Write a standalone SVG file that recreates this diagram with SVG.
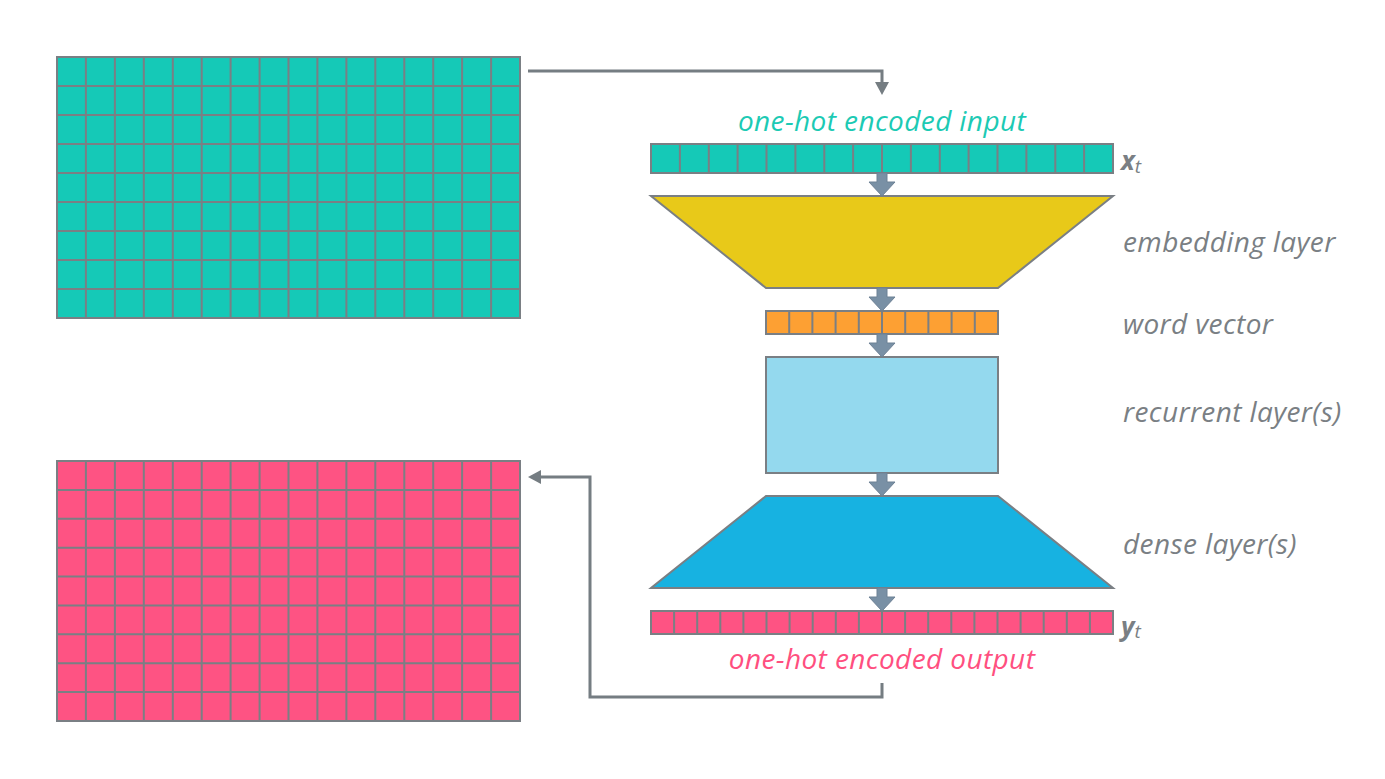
<svg xmlns="http://www.w3.org/2000/svg" width="1385" height="779" viewBox="0 0 1385 779">
<style>
.grid{stroke:#7a7f84;stroke-width:2;fill:none}
.teal{fill:#15c9b7}
.pink{fill:#fe5383}
.lbl{font-family:"Open Sans","DejaVu Sans",sans-serif;font-style:italic;font-weight:400;font-size:28px;letter-spacing:0.4px;fill:#7a7f84}
.conn{fill:none;stroke:#757d82;stroke-width:3}
.blk{fill:#7990a5;stroke:#6d8195;stroke-width:1}
.shape{stroke:#7a7f84;stroke-width:2}
</style>
<defs>
<path id="barrow" class="blk" d="M-5,0 H5 V9 H13 L0,23 L-13,9 H-5 Z"/>
<marker id="ah" markerUnits="userSpaceOnUse" markerWidth="14" markerHeight="14" refX="0" refY="7" orient="auto">
<path d="M0,0 L13,7 L0,14 Z" fill="#757d82"/>
</marker>
</defs>
<rect width="1385" height="779" fill="#ffffff"/>

<g id="input-matrix">
<rect x="57" y="57" width="463" height="261" class="teal"/>
<path class="grid" d="M57,57H520V318H57Z M85.9,57V318 M114.9,57V318 M143.8,57V318 M172.8,57V318 M201.7,57V318 M230.6,57V318 M259.6,57V318 M288.5,57V318 M317.4,57V318 M346.4,57V318 M375.3,57V318 M404.3,57V318 M433.2,57V318 M462.1,57V318 M491.1,57V318 M57,86H520 M57,115H520 M57,144H520 M57,173H520 M57,202H520 M57,231H520 M57,260H520 M57,289H520"/>
</g>

<g id="output-matrix">
<rect x="57" y="461" width="463" height="260" class="pink"/>
<path class="grid" d="M57,461H520V721H57Z M85.9,461V721 M114.9,461V721 M143.8,461V721 M172.8,461V721 M201.7,461V721 M230.6,461V721 M259.6,461V721 M288.5,461V721 M317.4,461V721 M346.4,461V721 M375.3,461V721 M404.3,461V721 M433.2,461V721 M462.1,461V721 M491.1,461V721 M57,489.9H520 M57,518.8H520 M57,547.7H520 M57,576.6H520 M57,605.4H520 M57,634.3H520 M57,663.2H520 M57,692.1H520"/>
</g>

<g id="input-vector">
<text x="882" y="131" text-anchor="middle" class="lbl" style="fill:#1ccab4">one-hot encoded input</text>
<rect x="651" y="144" width="462" height="29" class="teal"/>
<path class="grid" d="M651,144H1113V173H651Z M679.9,144V173 M708.8,144V173 M737.6,144V173 M766.5,144V173 M795.4,144V173 M824.3,144V173 M853.1,144V173 M882,144V173 M910.9,144V173 M939.8,144V173 M968.6,144V173 M997.5,144V173 M1026.4,144V173 M1055.3,144V173 M1084.1,144V173"/>
<text x="1121" y="170" font-family="Open Sans, DejaVu Sans, sans-serif" font-style="italic" font-weight="bold" font-size="26" fill="#7a7f84">x<tspan font-weight="normal" font-size="19" dy="3">t</tspan></text>
</g>

<g id="embedding-layer">
<polygon points="651,196 1113,196 998,288 766,288" fill="#e8c919" class="shape"/>
<text x="1123" y="252" class="lbl">embedding layer</text>
</g>

<g id="word-vector">
<rect x="766" y="311" width="232" height="23" fill="#fda033"/>
<path class="grid" d="M766,311H998V334H766Z M789.2,311V334 M812.4,311V334 M835.6,311V334 M858.8,311V334 M882,311V334 M905.2,311V334 M928.4,311V334 M951.6,311V334 M974.8,311V334"/>
<text x="1123" y="334" class="lbl">word vector</text>
</g>

<g id="recurrent-layer">
<rect x="766" y="357" width="232" height="116" fill="#94d9ee" class="shape"/>
<text x="1123" y="422" class="lbl">recurrent layer(s)</text>
</g>

<g id="dense-layer">
<polygon points="766,496 998,496 1113,588 651,588" fill="#17b2e1" class="shape"/>
<text x="1123" y="554" class="lbl">dense layer(s)</text>
</g>

<g id="output-vector">
<rect x="651" y="611" width="462" height="23" class="pink"/>
<path class="grid" d="M651,611H1113V634H651Z M674.1,611V634 M697.2,611V634 M720.3,611V634 M743.4,611V634 M766.5,611V634 M789.6,611V634 M812.7,611V634 M835.8,611V634 M858.9,611V634 M882,611V634 M905.1,611V634 M928.2,611V634 M951.3,611V634 M974.4,611V634 M997.5,611V634 M1020.6,611V634 M1043.7,611V634 M1066.8,611V634 M1089.9,611V634"/>
<text x="1121" y="636" font-family="Open Sans, DejaVu Sans, sans-serif" font-style="italic" font-weight="bold" font-size="26" fill="#7a7f84">y<tspan font-weight="normal" font-size="19" dy="2">t</tspan></text>
<text x="882" y="669" text-anchor="middle" class="lbl" style="fill:#ff4f7f">one-hot encoded output</text>
</g>

<g id="connectors">
<polyline class="conn" points="528,71 882,71 882,82" marker-end="url(#ah)"/>
<polyline class="conn" points="882,683 882,697 590,697 590,477 541,477" marker-end="url(#ah)"/>
<use href="#barrow" x="882" y="173"/>
<use href="#barrow" x="882" y="288"/>
<use href="#barrow" x="882" y="334"/>
<use href="#barrow" x="882" y="473"/>
<use href="#barrow" x="882" y="588"/>
</g>
</svg>
